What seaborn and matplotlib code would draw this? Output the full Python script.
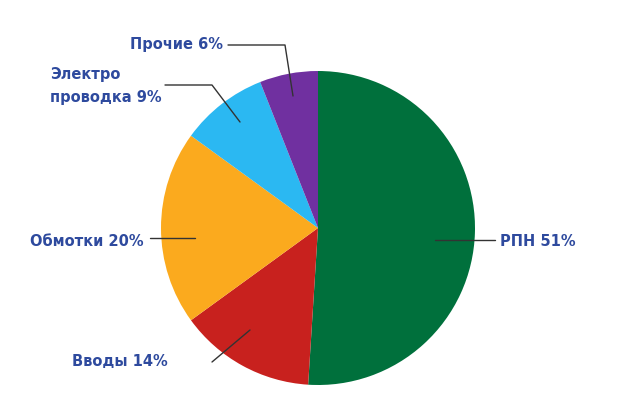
import matplotlib
matplotlib.use("Agg")
import matplotlib.pyplot as plt
import seaborn as sns

sns.set_style("white")
plt.rcParams['font.family'] = ['DejaVu Sans']

labels = ["РПН 51%", "Вводы 14%", "Обмотки 20%", "Электро\nпроводка 9%", "Прочие 6%"]
shares = [51, 14, 20, 9, 6]
colors = ["#00703C", "#C8211E", "#FBAA1E", "#2BB8F2", "#7030A0"]

H = 419
fig = plt.figure(figsize=(6.2, 4.19), dpi=100)
ax = fig.add_axes([0, 0, 1, 1])
ax.set_xlim(0, 620)
ax.set_ylim(0, H)
ax.set_aspect("equal")
ax.axis("off")

ax.pie(shares, colors=colors, startangle=90, counterclock=False,
       center=(318, H - 228), radius=157, wedgeprops=dict(linewidth=0))
ax.set_xlim(0, 620)
ax.set_ylim(0, H)

txt = "#2E4A9E"
lc = "#333333"
# (label anchor, line points, ha)
layout = [
    ((500, 242), [(435, 240), (495, 240)], "left"),
    ((72, 362), [(212, 362), (250, 330)], "left"),
    ((30, 242), [(150, 238), (195, 238)], "left"),
    ((50, 86), [(165, 85), (212, 85), (240, 122)], "left"),
    ((130, 45), [(228, 45), (285, 45), (293, 96)], "left"),
]
for lab, (pos, pts, ha) in zip(labels, layout):
    ax.text(pos[0], H - pos[1], lab, color=txt, fontsize=10.5, fontweight="bold",
            ha=ha, va="center", linespacing=1.6)
    ax.plot([p[0] for p in pts], [H - p[1] for p in pts], color=lc, lw=1)

fig.savefig("out.png", dpi=100)
